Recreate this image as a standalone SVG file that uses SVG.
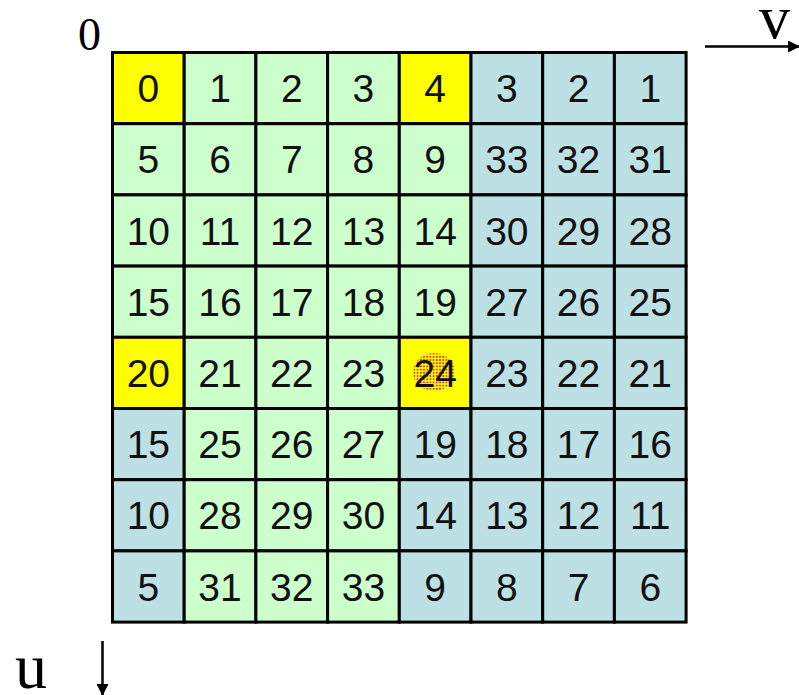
<svg xmlns="http://www.w3.org/2000/svg" width="799" height="695" viewBox="0 0 799 695">
<style>
.c{stroke:#000;stroke-width:3}
.y{fill:#FFFF00}
.g{fill:#CCFFCC}
.b{fill:#BCE0E4}
.t{font-family:"Liberation Sans",Arial,sans-serif;font-size:39px;fill:#111;text-anchor:middle}
.s{font-family:"Liberation Serif","Times New Roman",serif;fill:#000}
</style>
<defs>
<marker id="ah" viewBox="0 0 12 12" refX="11" refY="6" markerWidth="12" markerHeight="12" markerUnits="userSpaceOnUse" orient="auto"><path d="M0,0 L12,6 L0,12 z" fill="#000"/></marker>
<pattern id="dots" width="3.2" height="3.2" patternUnits="userSpaceOnUse"><circle cx="1.6" cy="1.6" r="1" fill="#D83020"/></pattern>
</defs>
<rect width="799" height="695" fill="#fff"/>
<g id="r0">
<g id="n0_0"><rect class="c y" x="112.5" y="52.5" width="71.7" height="71.2"/><text class="t" x="148.35" y="102.1">0</text></g>
<g id="n0_1"><rect class="c g" x="184.2" y="52.5" width="71.7" height="71.2"/><text class="t" x="220.05" y="102.1">1</text></g>
<g id="n0_2"><rect class="c g" x="255.9" y="52.5" width="71.7" height="71.2"/><text class="t" x="291.75" y="102.1">2</text></g>
<g id="n0_3"><rect class="c g" x="327.6" y="52.5" width="71.7" height="71.2"/><text class="t" x="363.45" y="102.1">3</text></g>
<g id="n0_4"><rect class="c y" x="399.3" y="52.5" width="71.7" height="71.2"/><text class="t" x="435.15" y="102.1">4</text></g>
<g id="n0_5"><rect class="c b" x="471" y="52.5" width="71.7" height="71.2"/><text class="t" x="506.85" y="102.1">3</text></g>
<g id="n0_6"><rect class="c b" x="542.7" y="52.5" width="71.7" height="71.2"/><text class="t" x="578.55" y="102.1">2</text></g>
<g id="n0_7"><rect class="c b" x="614.4" y="52.5" width="71.7" height="71.2"/><text class="t" x="650.25" y="102.1">1</text></g>
</g>
<g id="r1">
<g id="n1_0"><rect class="c g" x="112.5" y="123.7" width="71.7" height="71.2"/><text class="t" x="148.35" y="173.3">5</text></g>
<g id="n1_1"><rect class="c g" x="184.2" y="123.7" width="71.7" height="71.2"/><text class="t" x="220.05" y="173.3">6</text></g>
<g id="n1_2"><rect class="c g" x="255.9" y="123.7" width="71.7" height="71.2"/><text class="t" x="291.75" y="173.3">7</text></g>
<g id="n1_3"><rect class="c g" x="327.6" y="123.7" width="71.7" height="71.2"/><text class="t" x="363.45" y="173.3">8</text></g>
<g id="n1_4"><rect class="c g" x="399.3" y="123.7" width="71.7" height="71.2"/><text class="t" x="435.15" y="173.3">9</text></g>
<g id="n1_5"><rect class="c b" x="471" y="123.7" width="71.7" height="71.2"/><text class="t" x="506.85" y="173.3">33</text></g>
<g id="n1_6"><rect class="c b" x="542.7" y="123.7" width="71.7" height="71.2"/><text class="t" x="578.55" y="173.3">32</text></g>
<g id="n1_7"><rect class="c b" x="614.4" y="123.7" width="71.7" height="71.2"/><text class="t" x="650.25" y="173.3">31</text></g>
</g>
<g id="r2">
<g id="n2_0"><rect class="c g" x="112.5" y="194.9" width="71.7" height="71.2"/><text class="t" x="148.35" y="244.5">10</text></g>
<g id="n2_1"><rect class="c g" x="184.2" y="194.9" width="71.7" height="71.2"/><text class="t" x="220.05" y="244.5">11</text></g>
<g id="n2_2"><rect class="c g" x="255.9" y="194.9" width="71.7" height="71.2"/><text class="t" x="291.75" y="244.5">12</text></g>
<g id="n2_3"><rect class="c g" x="327.6" y="194.9" width="71.7" height="71.2"/><text class="t" x="363.45" y="244.5">13</text></g>
<g id="n2_4"><rect class="c g" x="399.3" y="194.9" width="71.7" height="71.2"/><text class="t" x="435.15" y="244.5">14</text></g>
<g id="n2_5"><rect class="c b" x="471" y="194.9" width="71.7" height="71.2"/><text class="t" x="506.85" y="244.5">30</text></g>
<g id="n2_6"><rect class="c b" x="542.7" y="194.9" width="71.7" height="71.2"/><text class="t" x="578.55" y="244.5">29</text></g>
<g id="n2_7"><rect class="c b" x="614.4" y="194.9" width="71.7" height="71.2"/><text class="t" x="650.25" y="244.5">28</text></g>
</g>
<g id="r3">
<g id="n3_0"><rect class="c g" x="112.5" y="266.1" width="71.7" height="71.2"/><text class="t" x="148.35" y="315.7">15</text></g>
<g id="n3_1"><rect class="c g" x="184.2" y="266.1" width="71.7" height="71.2"/><text class="t" x="220.05" y="315.7">16</text></g>
<g id="n3_2"><rect class="c g" x="255.9" y="266.1" width="71.7" height="71.2"/><text class="t" x="291.75" y="315.7">17</text></g>
<g id="n3_3"><rect class="c g" x="327.6" y="266.1" width="71.7" height="71.2"/><text class="t" x="363.45" y="315.7">18</text></g>
<g id="n3_4"><rect class="c g" x="399.3" y="266.1" width="71.7" height="71.2"/><text class="t" x="435.15" y="315.7">19</text></g>
<g id="n3_5"><rect class="c b" x="471" y="266.1" width="71.7" height="71.2"/><text class="t" x="506.85" y="315.7">27</text></g>
<g id="n3_6"><rect class="c b" x="542.7" y="266.1" width="71.7" height="71.2"/><text class="t" x="578.55" y="315.7">26</text></g>
<g id="n3_7"><rect class="c b" x="614.4" y="266.1" width="71.7" height="71.2"/><text class="t" x="650.25" y="315.7">25</text></g>
</g>
<g id="r4">
<g id="n4_0"><rect class="c y" x="112.5" y="337.3" width="71.7" height="71.2"/><text class="t" x="148.35" y="386.9">20</text></g>
<g id="n4_1"><rect class="c g" x="184.2" y="337.3" width="71.7" height="71.2"/><text class="t" x="220.05" y="386.9">21</text></g>
<g id="n4_2"><rect class="c g" x="255.9" y="337.3" width="71.7" height="71.2"/><text class="t" x="291.75" y="386.9">22</text></g>
<g id="n4_3"><rect class="c g" x="327.6" y="337.3" width="71.7" height="71.2"/><text class="t" x="363.45" y="386.9">23</text></g>
<g id="n4_4"><rect class="c y" x="399.3" y="337.3" width="71.7" height="71.2"/><ellipse cx="434" cy="372" rx="21" ry="19" fill="url(#dots)"/><text class="t" x="435.15" y="386.9">24</text></g>
<g id="n4_5"><rect class="c b" x="471" y="337.3" width="71.7" height="71.2"/><text class="t" x="506.85" y="386.9">23</text></g>
<g id="n4_6"><rect class="c b" x="542.7" y="337.3" width="71.7" height="71.2"/><text class="t" x="578.55" y="386.9">22</text></g>
<g id="n4_7"><rect class="c b" x="614.4" y="337.3" width="71.7" height="71.2"/><text class="t" x="650.25" y="386.9">21</text></g>
</g>
<g id="r5">
<g id="n5_0"><rect class="c b" x="112.5" y="408.5" width="71.7" height="71.2"/><text class="t" x="148.35" y="458.1">15</text></g>
<g id="n5_1"><rect class="c g" x="184.2" y="408.5" width="71.7" height="71.2"/><text class="t" x="220.05" y="458.1">25</text></g>
<g id="n5_2"><rect class="c g" x="255.9" y="408.5" width="71.7" height="71.2"/><text class="t" x="291.75" y="458.1">26</text></g>
<g id="n5_3"><rect class="c g" x="327.6" y="408.5" width="71.7" height="71.2"/><text class="t" x="363.45" y="458.1">27</text></g>
<g id="n5_4"><rect class="c b" x="399.3" y="408.5" width="71.7" height="71.2"/><text class="t" x="435.15" y="458.1">19</text></g>
<g id="n5_5"><rect class="c b" x="471" y="408.5" width="71.7" height="71.2"/><text class="t" x="506.85" y="458.1">18</text></g>
<g id="n5_6"><rect class="c b" x="542.7" y="408.5" width="71.7" height="71.2"/><text class="t" x="578.55" y="458.1">17</text></g>
<g id="n5_7"><rect class="c b" x="614.4" y="408.5" width="71.7" height="71.2"/><text class="t" x="650.25" y="458.1">16</text></g>
</g>
<g id="r6">
<g id="n6_0"><rect class="c b" x="112.5" y="479.7" width="71.7" height="71.2"/><text class="t" x="148.35" y="529.3">10</text></g>
<g id="n6_1"><rect class="c g" x="184.2" y="479.7" width="71.7" height="71.2"/><text class="t" x="220.05" y="529.3">28</text></g>
<g id="n6_2"><rect class="c g" x="255.9" y="479.7" width="71.7" height="71.2"/><text class="t" x="291.75" y="529.3">29</text></g>
<g id="n6_3"><rect class="c g" x="327.6" y="479.7" width="71.7" height="71.2"/><text class="t" x="363.45" y="529.3">30</text></g>
<g id="n6_4"><rect class="c b" x="399.3" y="479.7" width="71.7" height="71.2"/><text class="t" x="435.15" y="529.3">14</text></g>
<g id="n6_5"><rect class="c b" x="471" y="479.7" width="71.7" height="71.2"/><text class="t" x="506.85" y="529.3">13</text></g>
<g id="n6_6"><rect class="c b" x="542.7" y="479.7" width="71.7" height="71.2"/><text class="t" x="578.55" y="529.3">12</text></g>
<g id="n6_7"><rect class="c b" x="614.4" y="479.7" width="71.7" height="71.2"/><text class="t" x="650.25" y="529.3">11</text></g>
</g>
<g id="r7">
<g id="n7_0"><rect class="c b" x="112.5" y="550.9" width="71.7" height="71.2"/><text class="t" x="148.35" y="600.5">5</text></g>
<g id="n7_1"><rect class="c g" x="184.2" y="550.9" width="71.7" height="71.2"/><text class="t" x="220.05" y="600.5">31</text></g>
<g id="n7_2"><rect class="c g" x="255.9" y="550.9" width="71.7" height="71.2"/><text class="t" x="291.75" y="600.5">32</text></g>
<g id="n7_3"><rect class="c g" x="327.6" y="550.9" width="71.7" height="71.2"/><text class="t" x="363.45" y="600.5">33</text></g>
<g id="n7_4"><rect class="c b" x="399.3" y="550.9" width="71.7" height="71.2"/><text class="t" x="435.15" y="600.5">9</text></g>
<g id="n7_5"><rect class="c b" x="471" y="550.9" width="71.7" height="71.2"/><text class="t" x="506.85" y="600.5">8</text></g>
<g id="n7_6"><rect class="c b" x="542.7" y="550.9" width="71.7" height="71.2"/><text class="t" x="578.55" y="600.5">7</text></g>
<g id="n7_7"><rect class="c b" x="614.4" y="550.9" width="71.7" height="71.2"/><text class="t" x="650.25" y="600.5">6</text></g>
</g>
<g id="labels">
<text class="s" x="78" y="50" font-size="46">0</text>
<text class="s" x="759" y="38" font-size="62">v</text>
<text class="s" x="15" y="688" font-size="64">u</text>
</g>
<g id="connectors">
<line x1="705" y1="46.5" x2="799" y2="46.5" stroke="#000" stroke-width="2.5" marker-end="url(#ah)"/>
<line x1="102.5" y1="641" x2="102.5" y2="695" stroke="#000" stroke-width="2.5" marker-end="url(#ah)"/>
</g>
</svg>
